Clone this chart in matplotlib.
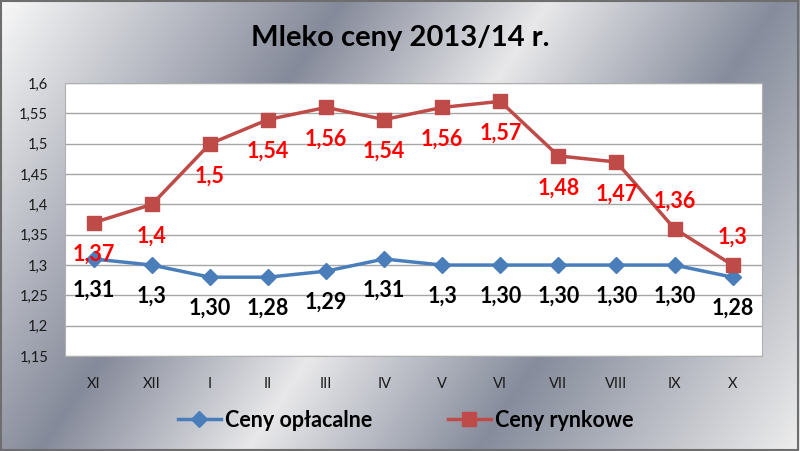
import matplotlib
matplotlib.use("Agg")
import matplotlib.pyplot as plt
import numpy as np
from matplotlib.colors import LinearSegmentedColormap

months = ["XI", "XII", "I", "II", "III", "IV", "V", "VI", "VII", "VIII", "IX", "X"]
ceny_oplacalne = [1.31, 1.30, 1.28, 1.28, 1.29, 1.31, 1.30, 1.30, 1.30, 1.30, 1.30, 1.28]
ceny_rynkowe = [1.37, 1.40, 1.50, 1.54, 1.56, 1.54, 1.56, 1.57, 1.48, 1.47, 1.36, 1.30]
labels_oplacalne = ["1,31", "1,3", "1,30", "1,28", "1,29", "1,31",
                    "1,3", "1,30", "1,30", "1,30", "1,30", "1,28"]
labels_rynkowe = ["1,37", "1,4", "1,5", "1,54", "1,56", "1,54",
                  "1,56", "1,57", "1,48", "1,47", "1,36", "1,3"]
yticks = [1.15, 1.2, 1.25, 1.3, 1.35, 1.4, 1.45, 1.5, 1.55, 1.6]

plt.rcParams['font.family'] = ['Lato', 'DejaVu Sans']

blue = "#4a7ebb"
red = "#be4b48"

fig = plt.figure(figsize=(8, 4.51), dpi=100)

# silver gradient background
bg = fig.add_axes([0, 0, 1, 1], zorder=-10)
xx, yy = np.meshgrid(np.linspace(0, 800, 400), np.linspace(0, 451, 226))
u = (xx + 0.67 * yy) / 1100.0
cmap = LinearSegmentedColormap.from_list(
    "chrome", [(0.0, "#f8f8f8"), (0.31, "#858a9a"), (0.5, "#e8e8ea"),
               (0.71, "#868c9c"), (1.0, "#ececec")])
bg.imshow(u, cmap=cmap, aspect="auto", extent=[0, 1, 0, 1], vmin=0, vmax=1)
bg.set_xlim(0, 1)
bg.set_ylim(0, 1)
bg.axis("off")
bg.add_patch(plt.Rectangle((0.001, 0.002), 0.997, 0.995, fill=False,
                           edgecolor="#6e6e6e", linewidth=1.5))

ax = fig.add_axes([0.081, 0.2106, 0.871, 0.605])
ax.set_facecolor("white")
x = np.arange(len(months))

ax.plot(x, ceny_oplacalne, color=blue, linewidth=2.5, marker="D",
        markersize=8, label="Ceny opłacalne", zorder=3)
ax.plot(x, ceny_rynkowe, color=red, linewidth=2.5, marker="s",
        markersize=10, label="Ceny rynkowe", zorder=3)

for i, (v, t) in enumerate(zip(ceny_oplacalne, labels_oplacalne)):
    ax.annotate(t, (x[i], v), xytext=(0, -22.5), textcoords="offset points",
                ha="center", va="center", fontsize=15.5, fontweight="bold",
                color="black", zorder=4)

for i, (v, t) in enumerate(zip(ceny_rynkowe, labels_rynkowe)):
    dy = 20 if i >= 10 else -23
    ax.annotate(t, (x[i], v), xytext=(0, dy), textcoords="offset points",
                ha="center", va="center", fontsize=15.5, fontweight="bold",
                color="red", zorder=4)

ax.set_xlim(-0.5, len(months) - 0.5)
ax.set_ylim(1.15, 1.6)
ax.set_yticks(yticks)
ax.set_yticklabels([f"{v:.2f}".rstrip("0").replace(".", ",") for v in yticks])
ax.set_xticks(x)
ax.set_xticklabels(months)
ax.tick_params(axis="both", length=0, labelsize=10.5, colors="#1a1a1a")
ax.tick_params(axis="x", pad=15)
ax.tick_params(axis="y", pad=12)
ax.grid(axis="y", color="#a6a6a6", linewidth=1)
ax.set_axisbelow(True)
for s in ax.spines.values():
    s.set_color("#b0b0b0")

fig.text(0.5, 0.915, "Mleko ceny 2013/14 r.", ha="center", va="center",
         fontsize=21, fontweight="bold", color="black")

leg = fig.legend(loc="center", bbox_to_anchor=(0.507, 0.068), ncol=2,
                 frameon=False, prop={"size": 15.5, "weight": "bold"},
                 columnspacing=3.5, handlelength=2.0, handletextpad=0.2)

fig.savefig("out.png", dpi=100)
